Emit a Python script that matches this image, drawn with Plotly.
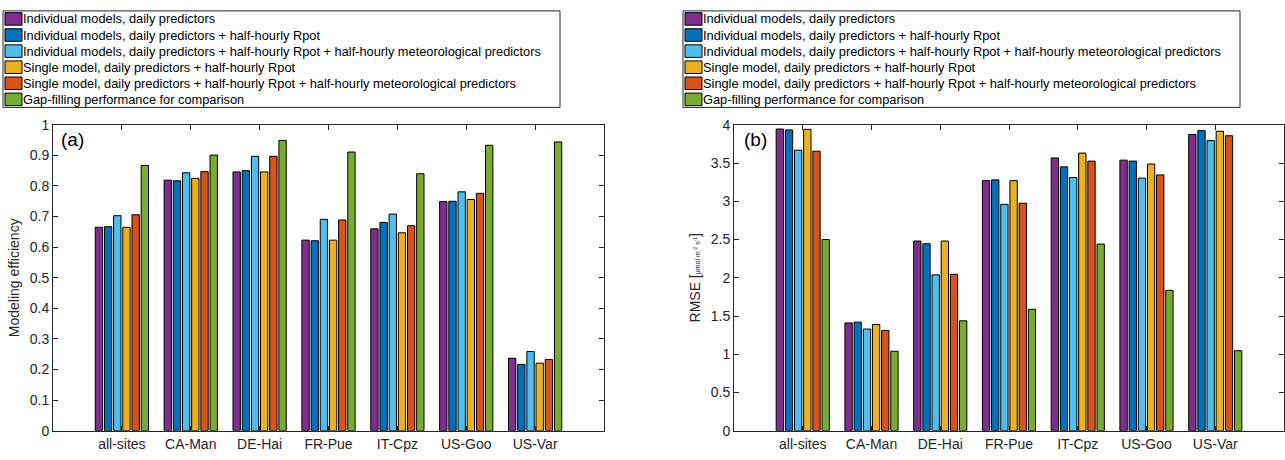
import plotly.graph_objects as go

sites = ["all-sites", "CA-Man", "DE-Hai", "FR-Pue", "IT-Cpz", "US-Goo", "US-Var"]
series_names = [
    "Individual models, daily predictors",
    "Individual models, daily predictors + half-hourly Rpot",
    "Individual models, daily predictors + half-hourly Rpot + half-hourly meteorological predictors",
    "Single model, daily predictors + half-hourly Rpot",
    "Single model, daily predictors + half-hourly Rpot + half-hourly meteorological predictors",
    "Gap-filling performance for comparison",
]
colors = ["#7E2F8E", "#0072BD", "#4DBEEE", "#EDB120", "#D95319", "#77AC30"]

# Panel (a): modeling efficiency, one list per series (ordered by sites)
ef_ind_daily = [0.665, 0.819, 0.846, 0.623, 0.660, 0.749, 0.237]
ef_ind_rpot = [0.667, 0.817, 0.850, 0.621, 0.681, 0.750, 0.217]
ef_ind_met = [0.703, 0.843, 0.897, 0.691, 0.708, 0.781, 0.259]
ef_sgl_rpot = [0.665, 0.825, 0.846, 0.623, 0.647, 0.756, 0.221]
ef_sgl_met = [0.706, 0.847, 0.897, 0.689, 0.670, 0.776, 0.233]
ef_gapfill = [0.867, 0.901, 0.949, 0.911, 0.840, 0.933, 0.944]

# Panel (b): RMSE
rmse_ind_daily = [3.945, 1.41, 2.48, 3.27, 3.567, 3.538, 3.874]
rmse_ind_rpot = [3.933, 1.42, 2.445, 3.28, 3.45, 3.525, 3.924]
rmse_ind_met = [3.668, 1.33, 2.038, 2.96, 3.311, 3.303, 3.794]
rmse_sgl_rpot = [3.941, 1.39, 2.48, 3.27, 3.63, 3.487, 3.916]
rmse_sgl_met = [3.655, 1.31, 2.046, 2.975, 3.525, 3.345, 3.857]
rmse_gapfill = [2.500, 1.04, 1.437, 1.588, 2.441, 1.836, 1.046]

ef_series = [ef_ind_daily, ef_ind_rpot, ef_ind_met, ef_sgl_rpot, ef_sgl_met, ef_gapfill]
rmse_series = [rmse_ind_daily, rmse_ind_rpot, rmse_ind_met, rmse_sgl_rpot, rmse_sgl_met, rmse_gapfill]

W, H = 1285, 460
FONT = "Liberation Sans, Arial, Helvetica, sans-serif"
AX = "#262626"

fig = go.Figure()

for name, col, vals in zip(series_names, colors, ef_series):
    fig.add_trace(go.Bar(x=sites, y=vals, name=name, marker=dict(color=col, line=dict(color="#000000", width=1)),
                         xaxis="x", yaxis="y", showlegend=False, offsetgroup=name))
for name, col, vals in zip(series_names, colors, rmse_series):
    fig.add_trace(go.Bar(x=sites, y=vals, name=name, marker=dict(color=col, line=dict(color="#000000", width=1)),
                         xaxis="x2", yaxis="y2", showlegend=False, offsetgroup=name))

def px_x(p):
    return p / W

def px_y(p):
    return 1 - p / H

y_bottom = px_y(438)
y_top = px_y(121)

axis_common = dict(showline=True, linecolor=AX, linewidth=1, mirror="allticks", ticks="inside",
                   ticklen=5, tickcolor=AX, tickfont=dict(family=FONT, size=14, color=AX),
                   showgrid=False, zeroline=False)

fig.update_layout(
    width=W, height=H,
    margin=dict(l=0, r=0, t=0, b=0),
    paper_bgcolor="white", plot_bgcolor="white",
    barmode="group", bargap=0.2, bargroupgap=0.2,
    font=dict(family=FONT, color=AX),
    xaxis=dict(domain=[px_x(53), px_x(604)], anchor="y", type="category", range=[-1, 7], **axis_common),
    yaxis=dict(domain=[y_bottom, y_top], anchor="x", range=[0, 1], dtick=0.1,
               title=dict(text="Modeling efficiency", font=dict(family=FONT, size=14, color=AX), standoff=6),
               **axis_common),
    xaxis2=dict(domain=[px_x(734), px_x(1284)], anchor="y2", type="category", range=[-1, 7], **axis_common),
    yaxis2=dict(domain=[y_bottom, y_top], anchor="x2", range=[0, 4], dtick=0.5,
                title=dict(text="RMSE [<span style='font-size:7px'>μmol m<sup>-2</sup> s<sup>-1</sup></span>]",
                           font=dict(family=FONT, size=14, color=AX), standoff=6),
                **axis_common),
)

# panel labels
for lab, xr, dx in [("(a)", "x domain", 0.01), ("(b)", "x2 domain", 0.015)]:
    fig.add_annotation(text=lab, xref=xr, yref="paper", x=dx, y=y_top - 0.004, xanchor="left", yanchor="top",
                       showarrow=False, font=dict(family=FONT, size=19, color="#000000"))

# manual legends (one per panel)
legend_boxes = [(3, 560), (683, 1240)]
row_top, row_bottom = 3, 103
row_pitch = (row_bottom - row_top) / len(series_names)
for (bx0, bx1) in legend_boxes:
    fig.add_shape(type="rect", xref="paper", yref="paper", x0=px_x(bx0), x1=px_x(bx1),
                  y0=px_y(row_bottom), y1=px_y(row_top), line=dict(color=AX, width=1), fillcolor="white")
    for i, (name, col) in enumerate(zip(series_names, colors)):
        cy = row_top + row_pitch * (i + 0.5)
        fig.add_shape(type="rect", xref="paper", yref="paper", x0=px_x(bx0 + 2), x1=px_x(bx0 + 19),
                      y0=px_y(cy + 6.5), y1=px_y(cy - 6.5), line=dict(color="#000000", width=1), fillcolor=col)
        fig.add_annotation(text=name, xref="paper", yref="paper", x=px_x(bx0 + 18), y=px_y(cy),
                           xanchor="left", yanchor="middle", showarrow=False,
                           font=dict(family=FONT, size=12.8, color="#000000"))

post = ("document.documentElement.style.margin='0';document.documentElement.style.overflow='hidden';"
        "document.body.style.margin='0';document.body.style.overflow='hidden';"
        "var gd=document.getElementById('{plot_id}');gd.style.overflow='hidden';")

fig.write_html("out.html", config={"displayModeBar": False}, post_script=post)
